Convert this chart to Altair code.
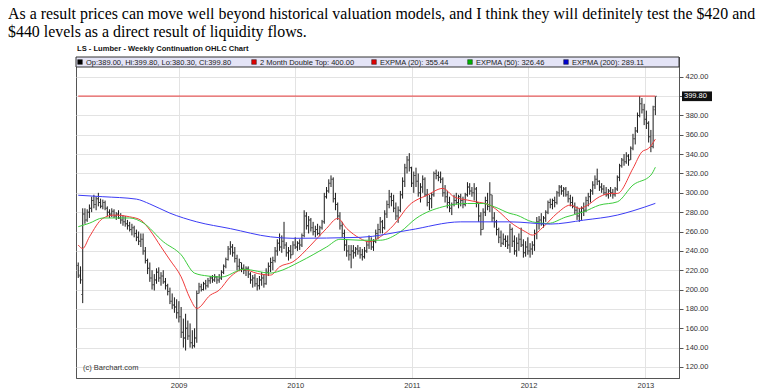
import altair as alt
import pandas as pd

# ---------------- text ----------------
paragraph_lines = [
    "As a result prices can move well beyond historical valuation models, and I think they will definitely test the $420 and",
    "$440 levels as a direct result of liquidity flows.",
]
chart_title = "LS - Lumber - Weekly Continuation OHLC Chart"
legend_labels = [
    "Op:389.00, Hi:399.80, Lo:380.30, Cl:399.80",
    "2 Month Double Top: 400.00",
    "EXPMA (20): 355.44",
    "EXPMA (50): 326.46",
    "EXPMA (200): 289.11",
]
legend_colors = ["#000000", "#e00000", "#e00000", "#00b400", "#0000d0"]
credit = "(c) Barchart.com"

# ---------------- weekly OHLC ----------------
first_week = "2008-02-22"
highs = [
    228, 224, 284, 284, 283, 288, 296, 298, 296, 300,
    294, 293, 292, 286, 283, 284, 283, 280, 282, 279,
    277, 276, 272, 270, 268, 266, 262, 260, 258, 258,
    244, 232, 228, 220, 216, 222, 223, 218, 220, 212,
    206, 202, 196, 192, 190, 188, 182, 170, 175, 168,
    165, 158, 160, 199, 207, 206, 208, 210, 212, 214,
    215, 216, 214, 216, 220, 226, 233, 245, 250, 247,
    244, 236, 232, 228, 226, 224, 224, 218, 215, 216,
    212, 214, 218, 216, 222, 228, 233, 234, 244, 252,
    258, 256, 270, 249, 244, 246, 250, 254, 250, 252,
    258, 282, 280, 276, 274, 270, 266, 268, 266, 272,
    300, 306, 314, 318, 316, 300, 290, 280, 270, 262,
    252, 246, 246, 246, 244, 246, 244, 242, 244, 250,
    256, 254, 252, 262, 268, 275, 272, 282, 292, 303,
    300, 298, 290, 286, 302, 316, 330, 338, 341, 327,
    322, 326, 320, 310, 318, 316, 304, 298, 300, 322,
    324, 322, 322, 316, 308, 302, 296, 290, 298, 300,
    298, 299, 296, 300, 311, 310, 306, 310, 306, 290,
    280, 284, 296, 300, 311, 298, 280, 272, 264, 261,
    258, 256, 256, 268, 264, 256, 254, 258, 264, 252,
    250, 254, 248, 250, 262, 275, 276, 279, 276, 282,
    292, 294, 294, 296, 302, 308, 308, 306, 306, 302,
    298, 296, 290, 286, 284, 286, 290, 296, 300, 304,
    312, 318, 325, 313, 310, 308, 306, 304, 306, 304,
    306, 318, 330, 336, 340, 342, 340, 348, 361, 368,
    383, 400, 398, 392, 385, 374, 365, 390, 399.8,
]
lows = [
    212, 206, 186, 268, 270, 274, 280, 284, 282, 286,
    284, 283, 282, 276, 274, 275, 274, 272, 273, 268,
    266, 265, 262, 260, 256, 254, 250, 246, 244, 236,
    227, 216, 208, 200, 199, 206, 208, 204, 206, 200,
    194, 185, 180, 176, 170, 166, 150, 140, 137, 148,
    140, 139, 140, 145, 196, 198, 199, 200, 202, 206,
    207, 208, 206, 207, 210, 216, 222, 230, 236, 234,
    228, 220, 219, 218, 216, 214, 212, 206, 202, 203,
    199, 200, 204, 202, 205, 214, 218, 220, 228, 235,
    240, 238, 242, 234, 230, 232, 236, 242, 240, 241,
    244, 254, 262, 258, 260, 256, 254, 256, 255, 262,
    268, 294, 300, 306, 290, 282, 272, 262, 254, 240,
    234, 230, 222, 232, 234, 236, 232, 230, 232, 238,
    242, 241, 240, 248, 252, 258, 258, 262, 274, 284,
    286, 280, 272, 269, 280, 294, 306, 320, 322, 306,
    300, 306, 296, 290, 300, 296, 286, 282, 284, 296,
    314, 312, 310, 296, 290, 284, 280, 277, 286, 288,
    284, 286, 284, 286, 296, 298, 296, 292, 285, 270,
    256, 262, 276, 282, 280, 270, 264, 256, 248, 244,
    246, 244, 242, 238, 244, 236, 234, 240, 244, 233,
    234, 236, 233, 236, 240, 252, 262, 266, 264, 270,
    278, 284, 283, 285, 288, 296, 298, 296, 296, 290,
    286, 284, 278, 272, 270, 272, 276, 280, 286, 290,
    298, 304, 308, 302, 300, 298, 296, 294, 296, 294,
    296, 302, 312, 326, 328, 330, 328, 334, 344, 350,
    362, 378, 382, 370, 366, 352, 342, 346, 380.3,
]
opens = [
    225, 214, 195, 278, 272, 280, 284, 292, 288, 294,
    290, 286, 290, 284, 280, 278, 281, 276, 278, 274,
    272, 270, 268, 266, 262, 264, 258, 254, 250, 252,
    240, 230, 222, 212, 205, 210, 218, 212, 214, 208,
    204, 198, 188, 184, 182, 176, 172, 156, 150, 160,
    152, 145, 142, 150, 196, 203, 200, 206, 204, 209,
    212, 210, 213, 210, 212, 218, 224, 231, 242, 244,
    238, 232, 224, 228, 222, 220, 222, 216, 210, 212,
    206, 204, 210, 212, 206, 218, 224, 228, 230, 240,
    248, 244, 250, 246, 238, 240, 236, 246, 244, 248,
    246, 256, 276, 266, 272, 264, 260, 262, 258, 264,
    270, 296, 302, 310, 314, 294, 288, 276, 266, 258,
    246, 240, 236, 240, 238, 242, 240, 236, 234, 240,
    246, 250, 244, 250, 258, 262, 270, 264, 278, 288,
    296, 292, 284, 276, 282, 298, 312, 326, 334, 326,
    310, 318, 312, 300, 306, 314, 298, 290, 294, 298,
    320, 318, 316, 314, 300, 296, 290, 284, 288, 292,
    290, 296, 292, 288, 298, 306, 302, 300, 304, 290,
    276, 262, 280, 292, 286, 298, 274, 270, 262, 254,
    248, 252, 250, 246, 262, 250, 240, 248, 252, 246,
    238, 244, 240, 242, 246, 258, 270, 272, 268, 274,
    280, 290, 288, 292, 290, 300, 306, 302, 304, 298,
    294, 290, 286, 282, 276, 280, 284, 282, 292, 296,
    302, 308, 314, 312, 306, 304, 300, 298, 302, 300,
    298, 304, 316, 328, 334, 332, 338, 334, 346, 356,
    364, 380, 392, 386, 376, 372, 358, 348, 389,
]
closes = [
    215, 210, 278, 272, 280, 284, 292, 288, 294, 290,
    286, 290, 284, 280, 278, 281, 276, 278, 274, 272,
    270, 268, 266, 262, 264, 258, 254, 250, 252, 240,
    230, 222, 212, 205, 210, 218, 212, 214, 208, 204,
    198, 188, 184, 182, 176, 172, 156, 150, 160, 152,
    145, 142, 150, 196, 203, 200, 206, 204, 209, 212,
    210, 213, 210, 212, 218, 224, 231, 242, 244, 238,
    232, 224, 228, 222, 220, 222, 216, 210, 212, 206,
    204, 210, 212, 206, 218, 224, 228, 230, 240, 248,
    244, 250, 246, 238, 240, 236, 246, 244, 248, 246,
    256, 276, 266, 272, 264, 260, 262, 258, 264, 270,
    296, 302, 310, 314, 294, 288, 276, 266, 258, 246,
    240, 236, 240, 238, 242, 240, 236, 234, 240, 246,
    250, 244, 250, 258, 262, 270, 264, 278, 288, 296,
    292, 284, 276, 282, 298, 312, 326, 334, 326, 310,
    318, 312, 300, 306, 314, 298, 290, 294, 298, 320,
    318, 316, 314, 300, 296, 290, 284, 288, 292, 290,
    296, 292, 288, 298, 306, 302, 300, 304, 290, 276,
    262, 280, 292, 286, 298, 274, 270, 262, 254, 248,
    252, 250, 246, 262, 250, 240, 248, 252, 246, 238,
    244, 240, 242, 246, 258, 270, 272, 268, 274, 280,
    290, 288, 292, 290, 300, 306, 302, 304, 298, 294,
    290, 286, 282, 276, 280, 284, 282, 292, 296, 302,
    308, 314, 312, 306, 304, 300, 298, 302, 300, 298,
    304, 316, 328, 334, 332, 338, 334, 346, 356, 364,
    380, 392, 386, 376, 372, 358, 348, 386, 399.8,
]

# ---------------- moving averages (by week number) ----------------
ema20_week = [0, 2, 5, 11, 16, 23, 28, 32, 37, 41, 46, 50, 53, 59, 63, 68, 74, 80, 86, 90,
              96, 104, 111, 116, 120, 126, 130, 135, 141, 148, 156, 163, 168, 174, 178, 184,
              189, 193, 200, 203, 208, 214, 220, 224, 227, 233, 238, 241, 248, 252, 255, 258]
ema20_value = [246, 242.5, 254.5, 273.6, 277, 275.2, 271.8, 261.5, 244.2, 230.6, 213.2, 190.8,
               180.5, 194.2, 199.4, 213.2, 220.8, 216.7, 215, 223.5, 228.7, 246, 263.2, 273.6,
               263.2, 252.9, 249.4, 254.5, 266.6, 287.3, 297.6, 304.6, 295.9, 292.5, 290.7,
               287.3, 278.7, 270, 259.7, 256.3, 265, 278.7, 287.3, 283.9, 286.3, 295.9, 299.4,
               299.4, 325.3, 342.4, 346, 355.44]
ema50_week = [0, 5, 11, 23, 29, 38, 46, 52, 58, 64, 74, 86, 89, 99, 111, 117, 126, 135, 144,
              151, 163, 174, 181, 186, 193, 196, 203, 210, 218, 226, 233, 241, 248, 256, 258]
ema50_value = [265, 268.6, 274, 274, 269, 249.5, 236, 217, 214, 213, 221, 217, 218.4, 228.7,
               244, 252, 251, 251, 259.7, 273.5, 285.6, 289, 289, 285.6, 278.7, 277, 270,
               268.4, 275, 280.4, 287.3, 290.7, 308, 318.3, 326.46]
ema200_week = [0, 11, 26, 32, 41, 53, 68, 86, 96, 126, 148, 171, 193, 211, 226, 241, 248, 258]
ema200_value = [297.5, 296, 293.5, 288.5, 279, 270, 263, 254.5, 253, 254, 261.5, 270, 270,
                267.7, 271.8, 277, 281.4, 289.11]

double_top = 400.0
last_close = 399.8
year_ticks = [2009, 2010, 2011, 2012, 2013]
price_ticks = list(range(120, 421, 20))

# ---------------- tables ----------------
dates = pd.date_range(first_week, periods=len(highs), freq="7D")
ohlc = pd.DataFrame({"date": dates, "high": highs, "low": lows, "open": opens, "close": closes})

ema_rows = []
for name, weeks, vals in [("EXPMA (20)", ema20_week, ema20_value),
                          ("EXPMA (50)", ema50_week, ema50_value),
                          ("EXPMA (200)", ema200_week, ema200_value)]:
    for w, v in zip(weeks, vals):
        ema_rows.append({"date": dates[w], "value": v, "series": name})
ema = pd.DataFrame(ema_rows)
top_line = pd.DataFrame({"start": [dates[0]], "end": [dates[-1]], "level": [double_top]})
one = pd.DataFrame({"k": [0]})

# ---------------- layout ----------------
W, H = 603, 321
FONT = "Liberation Sans"
GRID = "#e3e3e3"

x_scale = alt.Scale(domain=[alt.DateTime(year=2008, month=2, date=15),
                            alt.DateTime(year=2013, month=4, date=16)])
y_scale = alt.Scale(domain=[108.6, 440.4], nice=False, zero=False)
x_axis = alt.Axis(values=[alt.DateTime(year=y, month=1, date=1) for y in year_ticks],
                  format="%Y", title=None, grid=True, gridColor=GRID, ticks=False,
                  labelFontSize=7.5, labelPadding=3, labelFont=FONT, labelColor="#333",
                  domainColor="#555", labelFlush=False, labelOverlap=False)
y_axis = alt.Axis(orient="right", values=price_ticks, format=".2f", title=None, grid=True,
                  gridColor=GRID, tickSize=4, tickColor="#555", domainColor="#555",
                  labelFontSize=7.5, labelPadding=2, labelFont=FONT, labelColor="#333",
                  labelOverlap=False, labelFlush=False, labelBound=False)


def X(field):
    return alt.X(field, type="temporal", scale=x_scale, axis=x_axis)


def Y(field):
    return alt.Y(field, type="quantitative", scale=y_scale, axis=y_axis)


def YD(value):
    return alt.YDatum(value, type="quantitative", scale=y_scale, axis=y_axis)


layers = []

# high-low bars
layers.append(alt.Chart(ohlc).mark_rule(color="#1a1a1a", strokeWidth=1).encode(
    x=X("date"), y=Y("low"), y2="high"))
# open / close ticks
layers.append(alt.Chart(ohlc).mark_tick(orient="horizontal", size=1.2, thickness=1, xOffset=-1,
                                         color="#333").encode(x=X("date"), y=Y("open")))
layers.append(alt.Chart(ohlc).mark_tick(orient="horizontal", size=1.2, thickness=1, xOffset=1,
                                         color="#333").encode(x=X("date"), y=Y("close")))
# double top line
layers.append(alt.Chart(top_line).mark_rule(color="#e83a3a", strokeWidth=1).encode(
    x=X("start"), x2="end", y=Y("level")))
# moving averages
layers.append(alt.Chart(ema).mark_line(strokeWidth=1, interpolate="monotone").encode(
    x=X("date"), y=Y("value"),
    color=alt.Color("series:N", legend=None,
                    scale=alt.Scale(domain=["EXPMA (20)", "EXPMA (50)", "EXPMA (200)"],
                                    range=["#f03c3c", "#3ccc3c", "#3c3cf5"])),
    detail="series:N"))

# legend strip
layers.append(alt.Chart(one).mark_rect(fill="#e4e4f6", stroke="#333", strokeWidth=1).encode(
    x=alt.value(0), x2=alt.value(W), y=alt.value(0), y2=alt.value(10)))
square_x = [4, 178, 298, 394, 490]
for lab, col, sx in zip(legend_labels, legend_colors, square_x):
    layers.append(alt.Chart(one).mark_square(size=22, color=col, opacity=1, stroke="#222",
                                             strokeWidth=0.5).encode(
        x=alt.value(sx), y=alt.value(5)))
    layers.append(alt.Chart(one).mark_text(align="left", baseline="middle", fontSize=7.5,
                                           font=FONT, color="#222").encode(
        x=alt.value(sx + 6), y=alt.value(5.5), text=alt.value(lab)))

# current price highlight on the axis
layers.append(alt.Chart(one).mark_rect(color="#111").encode(
    x=alt.value(W + 3), x2=alt.value(W + 33),
    y=YD(last_close + 5), y2=alt.Y2Datum(last_close - 5)))
layers.append(alt.Chart(one).mark_text(align="left", baseline="middle", fontSize=7.5, font=FONT,
                                       color="white").encode(
    x=alt.value(W + 5), y=YD(last_close), text=alt.value(f"{last_close:.2f}")))

# credit
layers.append(alt.Chart(one).mark_text(align="left", baseline="middle", fontSize=7.5, font=FONT,
                                       color="#333").encode(
    x=alt.value(7), y=alt.value(311), text=alt.value(credit)))
# chart title
layers.append(alt.Chart(one).mark_text(align="left", baseline="alphabetic", fontSize=7.6,
                                       fontWeight="bold", font=FONT, color="#111").encode(
    x=alt.value(1), y=alt.value(-6), text=alt.value(chart_title)))
# paragraph
for k, line in enumerate(paragraph_lines):
    layers.append(alt.Chart(one).mark_text(align="left", baseline="alphabetic", fontSize=15.9,
                                           font="Liberation Serif", color="#000").encode(
        x=alt.value(-68), y=alt.value(-38 + 18 * k), text=alt.value(line)))

chart = alt.layer(*layers).properties(
    width=W, height=H,
    autosize=alt.AutoSizeParams(type="none"),
    padding={"left": 68, "top": 49, "right": 92, "bottom": 12},
    background="white",
).configure_view(stroke="#555", strokeWidth=1)

chart.save("out.html", embed_options={"renderer": "svg", "actions": False})
